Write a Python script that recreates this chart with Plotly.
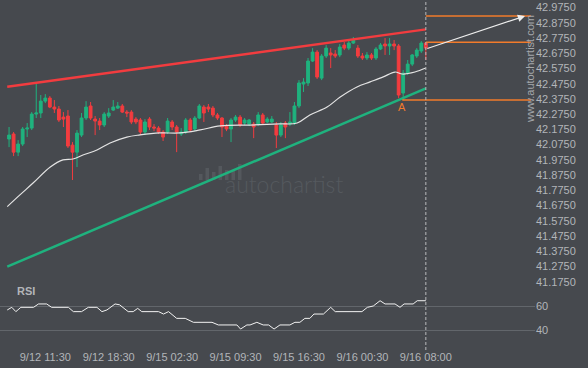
import plotly.graph_objects as go

# ---------------- data ----------------
bar_index = list(range(93))
opens = [42.092, 42.125, 42.006, 42.059, 42.158, 42.164, 42.256, 42.263, 42.341, 42.361,
         42.302, 42.289, 42.236, 42.243, 42.052, 42.006, 42.118, 42.230, 42.309, 42.223,
         42.210, 42.184, 42.243, 42.282, 42.295, 42.309, 42.269, 42.269, 42.223, 42.217,
         42.138, 42.223, 42.171, 42.164, 42.138, 42.138, 42.204, 42.171, 42.125, 42.138,
         42.217, 42.158, 42.230, 42.302, 42.302, 42.295, 42.250, 42.230, 42.177, 42.158,
         42.217, 42.236, 42.197, 42.190, 42.190, 42.190, 42.250, 42.204, 42.204, 42.184,
         42.118, 42.197, 42.190, 42.197, 42.309, 42.453, 42.460, 42.604, 42.663, 42.492,
         42.637, 42.657, 42.650, 42.644, 42.709, 42.689, 42.722, 42.689, 42.637, 42.624,
         42.644, 42.624, 42.683, 42.716, 42.703, 42.716, 42.703, 42.394, 42.525, 42.584,
         42.637, 42.670, 42.722]
highs = [42.171, 42.138, 42.085, 42.171, 42.197, 42.269, 42.460, 42.381, 42.387, 42.374,
         42.348, 42.309, 42.269, 42.282, 42.072, 42.151, 42.263, 42.341, 42.335, 42.243,
         42.230, 42.269, 42.295, 42.348, 42.335, 42.322, 42.282, 42.282, 42.236, 42.230,
         42.223, 42.236, 42.190, 42.177, 42.151, 42.230, 42.217, 42.184, 42.164, 42.230,
         42.230, 42.243, 42.322, 42.315, 42.322, 42.309, 42.263, 42.236, 42.190, 42.230,
         42.250, 42.250, 42.230, 42.223, 42.204, 42.269, 42.263, 42.236, 42.243, 42.204,
         42.204, 42.210, 42.269, 42.335, 42.479, 42.492, 42.624, 42.689, 42.676, 42.650,
         42.709, 42.689, 42.676, 42.716, 42.729, 42.742, 42.762, 42.709, 42.657, 42.663,
         42.657, 42.696, 42.722, 42.755, 42.755, 42.742, 42.716, 42.545, 42.611, 42.650,
         42.689, 42.735, 42.729]
lows = [42.039, 41.980, 41.980, 42.046, 42.105, 42.151, 42.230, 42.230, 42.328, 42.295,
        42.263, 42.204, 42.171, 42.033, 41.823, 41.908, 42.105, 42.217, 42.217, 42.118,
        42.151, 42.171, 42.230, 42.276, 42.289, 42.263, 42.236, 42.190, 42.190, 42.118,
        42.118, 42.151, 42.144, 42.125, 42.079, 42.125, 42.151, 42.006, 42.112, 42.125,
        42.138, 42.144, 42.223, 42.204, 42.269, 42.236, 42.217, 42.105, 42.144, 42.072,
        42.204, 42.171, 42.184, 42.177, 42.098, 42.177, 42.184, 42.197, 42.197, 42.033,
        42.105, 42.098, 42.177, 42.184, 42.295, 42.401, 42.440, 42.598, 42.486, 42.479,
        42.624, 42.558, 42.624, 42.630, 42.676, 42.676, 42.716, 42.624, 42.611, 42.611,
        42.611, 42.611, 42.676, 42.644, 42.644, 42.676, 42.360, 42.348, 42.512, 42.571,
        42.624, 42.657, 42.611]
closes = [42.118, 42.006, 42.059, 42.158, 42.164, 42.256, 42.263, 42.341, 42.361, 42.302,
          42.289, 42.217, 42.223, 42.046, 42.006, 42.131, 42.230, 42.302, 42.230, 42.210,
          42.184, 42.256, 42.263, 42.302, 42.309, 42.269, 42.263, 42.204, 42.204, 42.138,
          42.204, 42.171, 42.164, 42.138, 42.105, 42.210, 42.171, 42.138, 42.138, 42.217,
          42.151, 42.230, 42.309, 42.263, 42.289, 42.250, 42.230, 42.171, 42.158, 42.217,
          42.236, 42.184, 42.217, 42.217, 42.171, 42.250, 42.197, 42.223, 42.223, 42.118,
          42.184, 42.171, 42.204, 42.309, 42.460, 42.466, 42.604, 42.663, 42.499, 42.637,
          42.689, 42.644, 42.637, 42.696, 42.689, 42.722, 42.742, 42.637, 42.624, 42.644,
          42.624, 42.683, 42.709, 42.703, 42.716, 42.703, 42.381, 42.525, 42.584, 42.644,
          42.676, 42.722, 42.689]

# moving average (white line), sampled points
ma_x = [-0.4, 2.4, 5.3, 9.1, 11.9, 14.1, 16.3, 19.4, 22.3, 26.0, 28.9, 33.3, 37.7, 42.2,
        46.6, 53.2, 59.8, 63.6, 66.4, 70.2, 73.1, 76.8, 79.7, 82.6, 85.2, 86.8, 89.6, 92.0]
ma_y = [41.648, 41.725, 41.803, 41.908, 41.955, 41.961, 41.987, 42.020, 42.066, 42.105,
        42.119, 42.132, 42.132, 42.152, 42.178, 42.184, 42.191, 42.197, 42.250, 42.302,
        42.368, 42.434, 42.467, 42.500, 42.532, 42.519, 42.532, 42.558]

# RSI line, sampled points
rsi_x = [-0.4, 0.6, 1.5, 2.6, 5.4, 6.5, 8.3, 9.4, 13.1, 14.2, 16.0, 17.5, 19.4, 20.5, 21.6,
         23.4, 24.4, 26.3, 27.4, 28.4, 29.3, 33.0, 34.1, 35.2, 37.0, 38.9, 40.7, 44.8, 46.2,
         50.3, 51.1, 52.5, 53.2, 54.7, 56.1, 57.3, 58.5, 59.8, 62.0, 63.1, 64.2, 65.3, 66.4,
         67.3, 69.4, 71.0, 72.0, 77.9, 79.1, 80.4, 81.9, 83.0, 85.2, 86.3, 87.2, 89.2, 90.1, 92.0]
rsi_y = [56.7, 58.9, 55.3, 58.9, 58.9, 61.7, 61.7, 58.9, 58.9, 55.3, 55.3, 58.9, 58.9, 55.3, 56.7,
         61.7, 61.0, 55.3, 55.3, 58.0, 55.3, 55.3, 53.3, 55.3, 49.7, 49.7, 46.4, 46.4, 44.2,
         44.2, 40.8, 44.2, 44.2, 46.4, 44.2, 44.2, 40.8, 44.2, 44.2, 46.4, 46.4, 49.7, 49.7,
         53.3, 53.3, 58.9, 55.3, 55.3, 58.9, 60.0, 64.4, 61.7, 61.7, 58.9, 61.7, 61.7, 64.4, 64.4]

# trend lines (start/end)
res_x = [-0.4, 92.0]
res_y = [42.435, 42.812]
sup_x = [-0.4, 92.0]
sup_y = [41.254, 42.425]

# pattern levels
target_level = 42.900
breakout_level = 42.727
low_level = 42.348
level_start = [92.0, 92.0, 86.8]
level_end = 115.2
arrow_from = (92.0, 42.683)
arrow_to = (113.9, 42.900)
point_a = (86.7, 42.305)

x_tick_idx = [8, 22, 36, 50, 64, 78, 92]
x_tick_text = ["9/12 11:30", "9/12 18:30", "9/15 02:30", "9/15 09:30",
               "9/15 16:30", "9/16 00:30", "9/16 08:00"]
price_tick_text = ["41.1750", "41.2750", "41.3750", "41.4750", "41.5750", "41.6750",
                   "41.7750", "41.8750", "41.9750", "42.0750", "42.1750", "42.2750",
                   "42.3750", "42.4750", "42.5750", "42.6750", "42.7750", "42.8750", "42.9750"]
price_ticks = [float(t) for t in price_tick_text]
rsi_ticks = [40, 60]

# ---------------- styling ----------------
BG = "#46494e"
GREEN = "#1fb27e"
RED = "#f23c3f"
ORANGE = "#f27b2b"
TXT = "#b2b5b9"
W, H = 588, 368
R_MARGIN = 53
PW = W - R_MARGIN  # plot-area width in px (paper x refers to this)

fig = go.Figure()

fig.add_trace(go.Candlestick(
    x=bar_index, open=opens, high=highs, low=lows, close=closes,
    increasing=dict(line=dict(color=GREEN, width=1), fillcolor=GREEN),
    decreasing=dict(line=dict(color=RED, width=1), fillcolor=RED),
    whiskerwidth=0, xaxis="x", yaxis="y", showlegend=False, hoverinfo="skip"))

fig.add_trace(go.Scatter(x=ma_x, y=ma_y, mode="lines", line=dict(color="#e4e4e4", width=1.2, shape="spline"),
                         xaxis="x", yaxis="y", showlegend=False, hoverinfo="skip"))
fig.add_trace(go.Scatter(x=res_x, y=res_y, mode="lines", line=dict(color=RED, width=2.5),
                         xaxis="x", yaxis="y", showlegend=False, hoverinfo="skip"))
fig.add_trace(go.Scatter(x=sup_x, y=sup_y, mode="lines", line=dict(color=GREEN, width=2.5),
                         xaxis="x", yaxis="y", showlegend=False, hoverinfo="skip"))

for lvl, xs in zip([target_level, breakout_level, low_level], level_start):
    fig.add_trace(go.Scatter(x=[xs, level_end], y=[lvl, lvl], mode="lines",
                             line=dict(color=ORANGE, width=1.5),
                             xaxis="x", yaxis="y", showlegend=False, hoverinfo="skip"))

fig.add_trace(go.Scatter(x=rsi_x, y=rsi_y, mode="lines", line=dict(color="#f2f2f2", width=1),
                         xaxis="x", yaxis="y2", showlegend=False, hoverinfo="skip"))

main_top, main_bot = 0, 283
rsi_top, rsi_bot = 283, 349
px_per_unit = 152.3
p_at_0 = 41.175 + (278.7 - main_top) / px_per_unit
p_at_b = 41.175 + (278.7 - main_bot) / px_per_unit
rsi_lo = 40 - (rsi_bot - 330) / 1.2
rsi_hi = 60 + (306 - rsi_top) / 1.2

fig.update_layout(
    width=W, height=H, paper_bgcolor=BG, plot_bgcolor=BG, autosize=False,
    margin=dict(l=0, r=R_MARGIN, t=0, b=0, pad=0), showlegend=False, boxgap=0.12,
    font=dict(family="Liberation Sans, Arial, sans-serif", size=11, color=TXT),
    xaxis=dict(domain=[0, 1], range=[-2, 116.1], anchor="y2", showgrid=False, zeroline=False,
               showline=False, tickvals=x_tick_idx, ticktext=x_tick_text, ticks="",
               rangeslider=dict(visible=False), automargin=False, fixedrange=True,
               ticklabeloverflow="allow", tickfont=dict(size=11, color=TXT)),
    yaxis=dict(domain=[1 - main_bot / H, 1 - main_top / H], range=[p_at_b, p_at_0], side="right",
               anchor="x", showgrid=False, zeroline=False, showline=False, tickvals=price_ticks,
               ticktext=price_tick_text, ticks="", automargin=False, ticklabeloverflow="allow",
               ticklabelshift=3, tickfont=dict(size=11, color=TXT)),
    yaxis2=dict(domain=[1 - rsi_bot / H, 1 - rsi_top / H], range=[rsi_lo, rsi_hi], side="right",
                anchor="x", showgrid=True, gridcolor="#62666b", gridwidth=1, zeroline=False,
                showline=False, tickvals=rsi_ticks, ticks="", automargin=False,
                tickfont=dict(size=11, color=TXT)),
)

# vertical dashed "now" line
fig.add_shape(type="line", xref="x", yref="paper", x0=92, x1=92, y0=1 - 350 / H, y1=1,
              line=dict(color="#b8babd", width=1, dash="3px,2px"))

# projection arrow
fig.add_annotation(x=arrow_to[0], y=arrow_to[1], ax=arrow_from[0], ay=arrow_from[1],
                   xref="x", yref="y", axref="x", ayref="y", text="", showarrow=True,
                   arrowhead=2, arrowsize=1.2, arrowwidth=1.2, arrowcolor="#eeeeee")

fig.add_annotation(x=point_a[0], y=point_a[1], xref="x", yref="y", text="A", showarrow=False,
                   font=dict(size=11, color=ORANGE), yanchor="middle")

fig.add_annotation(x=15 / PW, y=1 - 291 / H, xref="paper", yref="paper", text="<b>RSI</b>",
                   showarrow=False, xanchor="left", yanchor="middle",
                   font=dict(size=11, color=TXT))

fig.add_annotation(x=530 / PW, y=1 - 69 / H, xref="paper", yref="paper", text="www.autochartist.com",
                   xanchor="center", yanchor="middle", showarrow=False, textangle=-90,
                   font=dict(size=11, color="#a4a7ab"))

fig.add_annotation(x=284 / PW, y=1 - 184 / H, xref="paper", yref="paper", text="autochartist",
                   xanchor="center", yanchor="middle", showarrow=False,
                   font=dict(size=23, color="#55595e", family="Lato, sans-serif", weight=300))

# faint logo bars next to the watermark
logo_heights = [6, 12, 8, 14, 10, 10, 16]
for k, hgt in enumerate(logo_heights):
    x0 = 199 + k * 6.5
    fig.add_shape(type="rect", xref="paper", yref="paper",
                  x0=x0 / PW, x1=(x0 + 3.5) / PW, y0=1 - 180 / H, y1=1 - (180 - hgt) / H,
                  line=dict(width=0), fillcolor="#54585d", layer="below")

fig.write_html("out.html", config={"displayModeBar": False},
               post_script="document.body.style.margin='0px';")
